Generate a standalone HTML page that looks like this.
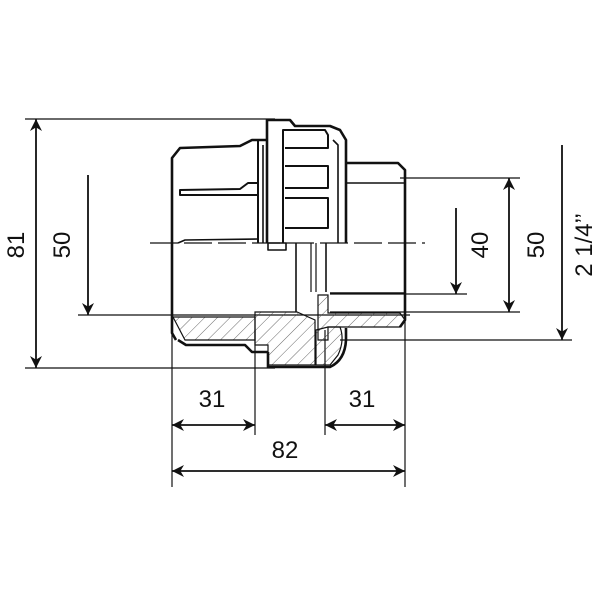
<!DOCTYPE html>
<html><head><style>body{margin:0;background:#fff}svg{display:block}text{font-family:"Liberation Sans",sans-serif;font-size:24px;fill:#111}</style></head><body>
<svg width="603" height="603" viewBox="0 0 603 603">
<defs>
<marker id="a" viewBox="0 0 10 10" refX="10" refY="5" markerWidth="16" markerHeight="12" orient="auto-start-reverse" markerUnits="userSpaceOnUse"><path d="M0,0 L10,5 L0,10 L3,5z" fill="#111"/></marker>
<pattern id="h" width="9" height="9" patternUnits="userSpaceOnUse" patternTransform="rotate(45)"><line x1="0" y1="0" x2="0" y2="9" stroke="#444" stroke-width="0.8"/></pattern>
</defs>
<g stroke="#111" fill="none" stroke-width="1.2">
<line x1="25" y1="119" x2="275" y2="119"/>
<line x1="25" y1="368" x2="275" y2="368"/>
<line x1="78" y1="315" x2="410" y2="315"/>
<line x1="400" y1="178" x2="520" y2="178"/>
<line x1="330" y1="294" x2="467" y2="294"/>
<line x1="330" y1="312" x2="520" y2="312"/>
<line x1="340" y1="340" x2="572" y2="340"/>
<line x1="150" y1="243" x2="425" y2="243" stroke-dasharray="28,6"/>
<line x1="172" y1="330" x2="172" y2="487"/>
<line x1="255" y1="330" x2="255" y2="435"/>
<line x1="325" y1="330" x2="325" y2="435"/>
<line x1="405" y1="310" x2="405" y2="487"/>
<line x1="36" y1="119" x2="36" y2="368" marker-start="url(#a)" marker-end="url(#a)" stroke-width="1.8"/>
<line x1="88" y1="175" x2="88" y2="315" marker-end="url(#a)" stroke-width="1.8"/>
<line x1="456" y1="208" x2="456" y2="294" marker-end="url(#a)" stroke-width="1.8"/>
<line x1="509" y1="178" x2="509" y2="312" marker-start="url(#a)" marker-end="url(#a)" stroke-width="1.8"/>
<line x1="562" y1="145" x2="562" y2="340" marker-end="url(#a)" stroke-width="1.8"/>
<line x1="172" y1="425" x2="255" y2="425" marker-start="url(#a)" marker-end="url(#a)" stroke-width="1.8"/>
<line x1="325" y1="425" x2="405" y2="425" marker-start="url(#a)" marker-end="url(#a)" stroke-width="1.8"/>
<line x1="172" y1="471" x2="405" y2="471" marker-start="url(#a)" marker-end="url(#a)" stroke-width="1.8"/>
</g>
<g stroke="#111" stroke-width="1.2" fill="url(#h)">
<path d="M173,317 L255,317 L255,340 L185,340 Z"/>
<path d="M255,312 L297,312 L315,320 L315,365 L268,365 L268,345 L255,345 Z"/>
<path d="M318,295 L328,295 L328,313 L400,313 L405,320 L400,327 L328,327 L328,340 L318,340 Z"/>
<path d="M328,327 L340,327 Q345,340 338,355 L330,365 L316,365 L316,330 Z"/>
</g>
<g stroke="#111" fill="none" stroke-width="2.6" stroke-linejoin="round">
<path d="M176,340 L172,333 L172,158 L180,148 L240,146 L252,140 L268,140"/>
<path d="M178,340 L186,345 L245,345 L252,352 L268,352"/>
<path d="M180,190 L240,189 L248,183 L258,183 L258,195 L180,195 Z" stroke-width="2"/>
<path d="M178,243 L185,240 L258,239" stroke-width="1.6"/>
<line x1="258" y1="140" x2="258" y2="243" stroke-width="2"/>
<line x1="263" y1="145" x2="263" y2="243" stroke-width="1.6"/>
<path d="M267,243 L267,120 L290,120 L295,126 L330,126 L340,130 L346,140 L346,243"/>
<path d="M283,243 L283,130 L325,130 L328,135 L328,148 L285,148 M285,166 L328,166 L328,174 L328,188 L285,188 M285,198 L328,198 L328,228 L285,228" stroke-width="2"/>
<path d="M333,140 L338,145 L338,243" stroke-width="1.6"/>
<rect x="268" y="243" width="18" height="7" stroke-width="1.6"/>
<line x1="296" y1="243" x2="296" y2="312" stroke-width="1.6"/>
<line x1="311" y1="243" x2="311" y2="292" stroke-width="1.2"/>
<line x1="316" y1="243" x2="316" y2="292" stroke-width="1.2"/>
<line x1="326" y1="243" x2="326" y2="292" stroke-width="1.6"/>
<path d="M346,163 L398,163 L405,170 L405,320 L400,327"/>
<line x1="346" y1="183" x2="405" y2="183" stroke-width="1.6"/>
<line x1="330" y1="293" x2="405" y2="293" stroke-width="1.6"/>
<path d="M268,352 L268,367 L330,367 Q345,360 346,340 L346,328" stroke-width="2.6"/>
</g>
<text transform="translate(24,245) rotate(-90)" text-anchor="middle">81</text>
<text transform="translate(70,245) rotate(-90)" text-anchor="middle">50</text>
<text transform="translate(488,245) rotate(-90)" text-anchor="middle">40</text>
<text transform="translate(544,245) rotate(-90)" text-anchor="middle">50</text>
<text transform="translate(592,245) rotate(-90)" text-anchor="middle">2 1/4’’</text>
<text x="212" y="407" text-anchor="middle">31</text>
<text x="362" y="407" text-anchor="middle">31</text>
<text x="285" y="458" text-anchor="middle">82</text>
</svg>
</body></html>
